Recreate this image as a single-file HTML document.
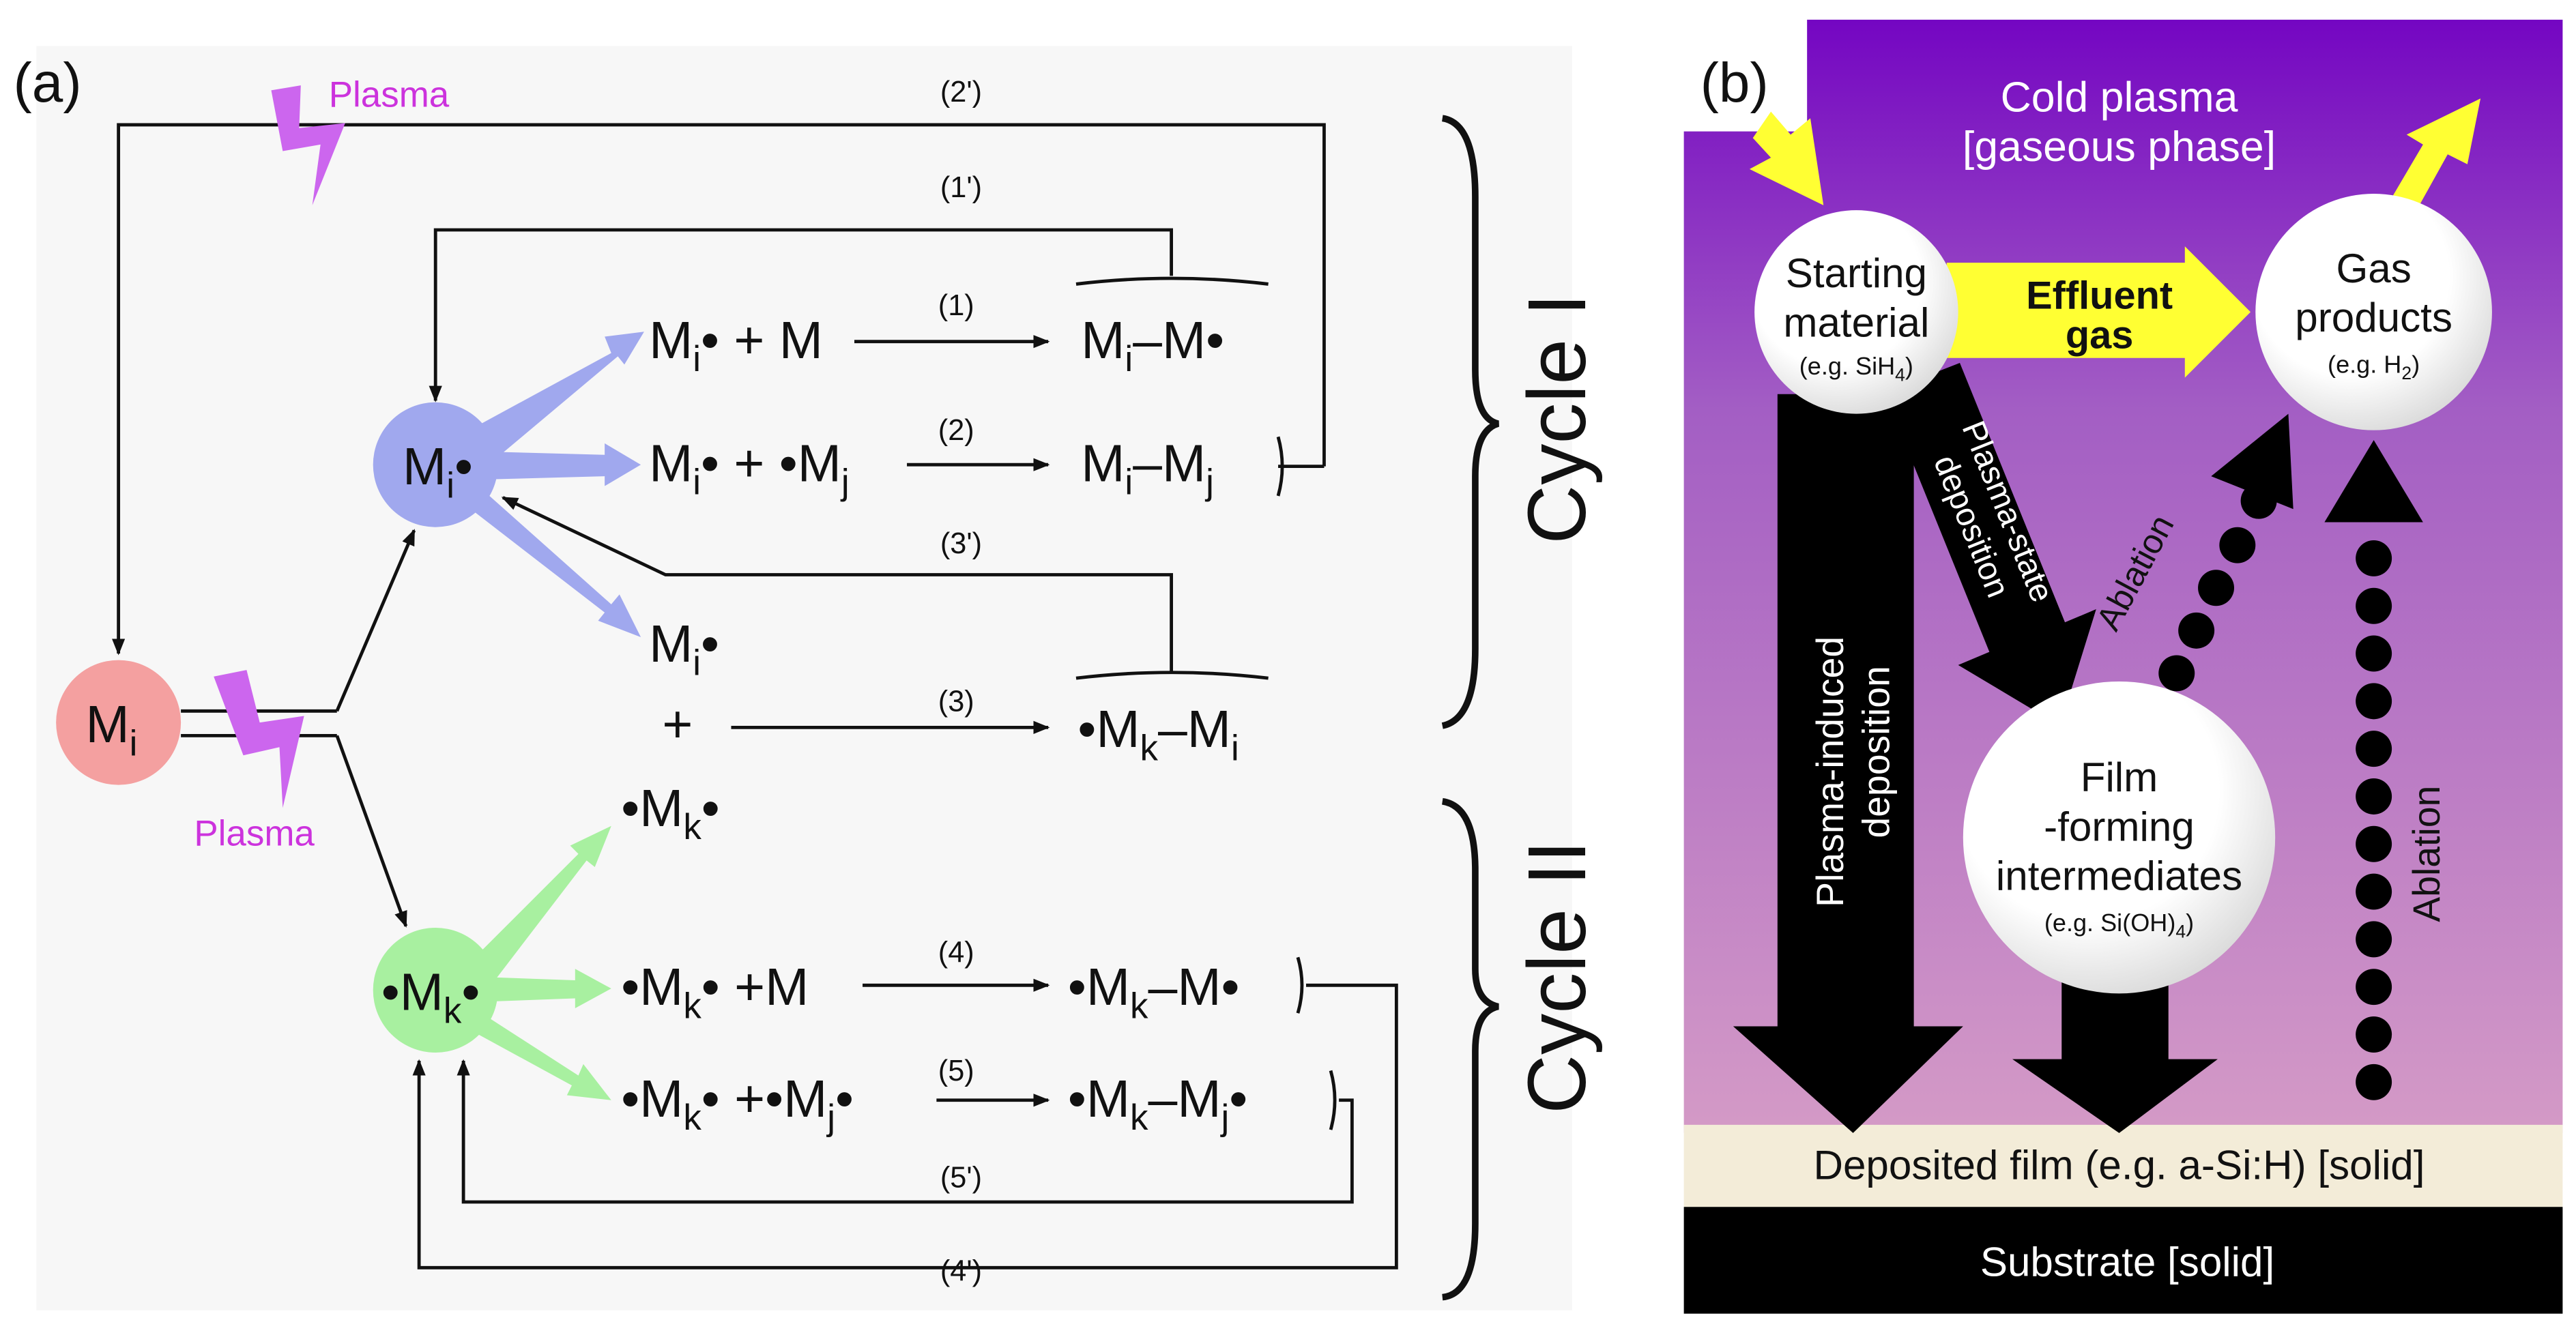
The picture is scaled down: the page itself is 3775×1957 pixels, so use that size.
<!DOCTYPE html>
<html><head><meta charset="utf-8"><style>
html,body{margin:0;padding:0;background:#fff}
svg{display:block}
text{font-family:"Liberation Sans",sans-serif}
</style></head><body>
<svg width="3775" height="1957" viewBox="0 0 1568 813" xmlns="http://www.w3.org/2000/svg">
<defs>
<marker id="ar" markerWidth="10" markerHeight="8" refX="9" refY="4" orient="auto" markerUnits="userSpaceOnUse"><path d="M0,0 L10,4 L0,8 Z" fill="#111"/></marker>
<linearGradient id="pg" x1="0" y1="0" x2="0" y2="1"><stop offset="0" stop-color="#7406c2"/><stop offset="0.35" stop-color="#a35ec4"/><stop offset="1" stop-color="#d49ac6"/></linearGradient>
<radialGradient id="wb" cx="0.4" cy="0.35" r="0.7"><stop offset="0.6" stop-color="#ffffff"/><stop offset="1" stop-color="#d8d8d8"/></radialGradient>
</defs>
<rect width="1568" height="813" fill="#fff"/>
<rect x="22" y="28" width="935" height="770" fill="#f7f7f7"/>
<text x="8" y="62" font-size="34" fill="#111">(a)</text>
<g stroke="#111" stroke-width="2" fill="none">
<polyline points="806,284 806,76 72,76 72,398" marker-end="url(#ar)"/>
<line x1="778" y1="284" x2="806" y2="284"/>
<polyline points="713,168 713,140 265,140 265,244" marker-end="url(#ar)"/>
<path d="M655,173 Q713,166 772,173"/>
<polyline points="713,410 713,350 405,350 306,303" marker-end="url(#ar)"/>
<path d="M655,413 Q713,406 772,413"/>
<path d="M778,266 Q783,284 778,302"/>
<line x1="110" y1="433" x2="205" y2="433"/><line x1="110" y1="448" x2="205" y2="448"/>
<polyline points="205,433 252,323" marker-end="url(#ar)"/>
<polyline points="205,448 247,564" marker-end="url(#ar)"/>
<line x1="520" y1="208" x2="638" y2="208" marker-end="url(#ar)"/>
<line x1="552" y1="283" x2="638" y2="283" marker-end="url(#ar)"/>
<line x1="445" y1="443" x2="638" y2="443" marker-end="url(#ar)"/>
<line x1="525" y1="600" x2="638" y2="600" marker-end="url(#ar)"/>
<line x1="570" y1="670" x2="638" y2="670" marker-end="url(#ar)"/>
<path d="M790,583 Q795,600 790,617"/>
<path d="M810,652 Q815,670 810,688"/>
<polyline points="795,600 850,600 850,772 255,772 255,646" marker-end="url(#ar)"/>
<polyline points="815,670 823,670 823,732 282,732 282,646" marker-end="url(#ar)"/>
</g>
<path d="M165,55 L183,52 L182,78 L210,75 L190,125 L195,88 L172,92 Z" fill="#cc66ee"/>
<text x="200" y="65" font-size="22" fill="#cc33dd">Plasma</text>
<path d="M130,412 L150,408 L158,440 L185,436 L172,492 L170,455 L148,460 Z" fill="#cc66ee"/>
<text x="118" y="515" font-size="22" fill="#cc33dd">Plasma</text>
<g fill="#a0a8ee">
<path d="M280,265 L372,215 L368,205 L392,202 L380,222 L376,217 L295,285 Z"/>
<path d="M295,275 L368,277 L368,270 L390,283 L368,296 L368,290 L295,292 Z"/>
<path d="M290,295 L372,368 L377,362 L390,388 L364,378 L368,373 L280,305 Z"/>
</g>
<g fill="#a8f0a0">
<path d="M282,590 L352,520 L347,515 L372,503 L362,528 L357,524 L295,605 Z"/>
<path d="M295,595 L350,597 L350,590 L372,602 L350,614 L350,608 L295,610 Z"/>
<path d="M290,615 L352,655 L355,648 L372,670 L345,667 L348,661 L282,625 Z"/>
</g>
<circle cx="72" cy="440" r="38" fill="#f4a0a0"/>
<circle cx="265" cy="283" r="38" fill="#a0a8ee"/>
<circle cx="265" cy="603" r="38" fill="#a8f0a0"/>
<g font-size="32" fill="#111">
<text x="52" y="452">M<tspan font-size="22" dy="8">i</tspan></text>
<text x="245" y="295">M<tspan font-size="22" dy="8">i</tspan><tspan dy="-8">•</tspan></text>
<text x="232" y="615">•M<tspan font-size="22" dy="8">k</tspan><tspan dy="-8">•</tspan></text>
<text x="395" y="218">M<tspan font-size="22" dy="8">i</tspan><tspan dy="-8">• +  M</tspan></text>
<text x="658" y="218">M<tspan font-size="22" dy="8">i</tspan><tspan dy="-8">–M•</tspan></text>
<text x="395" y="293">M<tspan font-size="22" dy="8">i</tspan><tspan dy="-8">• + •M</tspan><tspan font-size="22" dy="8">j</tspan></text>
<text x="658" y="293">M<tspan font-size="22" dy="8">i</tspan><tspan dy="-8">–M</tspan><tspan font-size="22" dy="8">j</tspan></text>
<text x="395" y="403">M<tspan font-size="22" dy="8">i</tspan><tspan dy="-8">•</tspan></text>
<text x="403" y="452">+</text>
<text x="656" y="455">•M<tspan font-size="22" dy="8">k</tspan><tspan dy="-8">–M</tspan><tspan font-size="22" dy="8">i</tspan></text>
<text x="378" y="503">•M<tspan font-size="22" dy="8">k</tspan><tspan dy="-8">•</tspan></text>
<text x="378" y="612">•M<tspan font-size="22" dy="8">k</tspan><tspan dy="-8">• +M</tspan></text>
<text x="650" y="612">•M<tspan font-size="22" dy="8">k</tspan><tspan dy="-8">–M•</tspan></text>
<text x="378" y="680">•M<tspan font-size="22" dy="8">k</tspan><tspan dy="-8">• +•M</tspan><tspan font-size="22" dy="8">j</tspan><tspan dy="-8">•</tspan></text>
<text x="650" y="680">•M<tspan font-size="22" dy="8">k</tspan><tspan dy="-8">–M</tspan><tspan font-size="22" dy="8">j</tspan><tspan dy="-8">•</tspan></text>
</g>
<g font-size="18" fill="#111" text-anchor="middle">
<text x="585" y="62">(2')</text><text x="585" y="120">(1')</text>
<text x="582" y="192">(1)</text><text x="582" y="268">(2)</text>
<text x="585" y="337">(3')</text><text x="582" y="433">(3)</text>
<text x="582" y="586">(4)</text><text x="582" y="658">(5)</text>
<text x="585" y="723">(5')</text><text x="585" y="780">(4')</text>
</g>
<g stroke="#111" stroke-width="4" fill="none">
<path d="M878,72 Q898,75 898,120 L898,225 Q898,255 912,258 Q898,262 898,290 L898,395 Q898,438 878,442"/>
<path d="M878,488 Q898,491 898,530 L898,590 Q898,610 912,613 Q898,616 898,640 L898,745 Q898,788 878,790"/>
</g>
<text transform="translate(965,255) rotate(-90)" font-size="50" text-anchor="middle" fill="#111">Cycle I</text>
<text transform="translate(965,595) rotate(-90)" font-size="50" text-anchor="middle" fill="#111">Cycle II</text>
<!-- panel b -->
<path d="M1100,12 L1560,12 L1560,690 L1025,690 L1025,80 L1100,80 Z" fill="url(#pg)"/>
<text x="1035" y="62" font-size="34" fill="#111">(b)</text>
<rect x="1025" y="685" width="535" height="50" fill="#f3ecd8"/>
<rect x="1025" y="735" width="535" height="65" fill="#000"/>
<text x="1290" y="718" font-size="25" text-anchor="middle" fill="#111">Deposited film (e.g. a-Si:H) [solid]</text>
<text x="1295" y="777" font-size="25" text-anchor="middle" fill="#fff">Substrate [solid]</text>
<text x="1290" y="68" font-size="26" text-anchor="middle" fill="#fff">Cold plasma</text>
<text x="1290" y="98" font-size="26" text-anchor="middle" fill="#fff">[gaseous phase]</text>
<path d="M1185,160 L1330,160 L1330,150 L1370,190 L1330,230 L1330,218 L1185,218 Z" fill="#ffff33"/>
<path d="M1078,68 L1090,82 L1102,72 L1110,125 L1065,103 L1078,96 L1067,84 Z" fill="#ffff33"/>
<path d="M1455,122 L1475,88 L1465,82 L1510,60 L1502,100 L1490,94 L1470,130 Z" fill="#ffff33"/>
<path d="M1082,240 L1165,240 L1165,625 L1195,625 L1128,690 L1055,625 L1082,625 Z" fill="#000"/>
<path d="M1147,239 L1193,221 L1257,379 L1276,371 L1254,442 L1192,405 L1211,397 Z" fill="#000"/>
<path d="M1255,590 L1320,590 L1320,645 L1350,645 L1290,690 L1225,645 L1255,645 Z" fill="#000"/>
<circle cx="1130" cy="190" r="62" fill="url(#wb)"/>
<circle cx="1445" cy="190" r="72" fill="url(#wb)"/>
<circle cx="1290" cy="510" r="95" fill="url(#wb)"/>
<g fill="#111" text-anchor="middle">
<text x="1130" y="175" font-size="25">Starting</text>
<text x="1130" y="205" font-size="25">material</text>
<text x="1130" y="228" font-size="15">(e.g. SiH<tspan font-size="11" dy="4">4</tspan><tspan dy="-4">)</tspan></text>
<text x="1445" y="172" font-size="25">Gas</text>
<text x="1445" y="202" font-size="25">products</text>
<text x="1445" y="227" font-size="15">(e.g. H<tspan font-size="11" dy="4">2</tspan><tspan dy="-4">)</tspan></text>
<text x="1290" y="482" font-size="25">Film</text>
<text x="1290" y="512" font-size="25">-forming</text>
<text x="1290" y="542" font-size="25">intermediates</text>
<text x="1290" y="567" font-size="15">(e.g. Si(OH)<tspan font-size="11" dy="4">4</tspan><tspan dy="-4">)</tspan></text>
<text x="1278" y="188" font-size="24" font-weight="bold">Effluent</text>
<text x="1278" y="212" font-size="24" font-weight="bold">gas</text>
</g>
<g fill="#fff" font-size="23" text-anchor="middle">
<text transform="translate(1122,470) rotate(-90)">Plasma-induced</text>
<text transform="translate(1150,458) rotate(-90)">deposition</text>
</g>
<g fill="#fff" font-size="20" text-anchor="middle">
<text transform="translate(1216,314) rotate(68)">Plasma-state</text>
<text transform="translate(1194,323) rotate(68)">deposition</text>
</g>
<text transform="translate(1306,352) rotate(-62)" font-size="21" text-anchor="middle" fill="#111">Ablation</text>
<text transform="translate(1485,520) rotate(-90)" font-size="23" text-anchor="middle" fill="#111">Ablation</text>
<g fill="#000">
<circle cx="1445" cy="340" r="11"/><circle cx="1445" cy="369" r="11"/><circle cx="1445" cy="398" r="11"/>
<circle cx="1445" cy="427" r="11"/><circle cx="1445" cy="456" r="11"/><circle cx="1445" cy="485" r="11"/>
<circle cx="1445" cy="514" r="11"/><circle cx="1445" cy="543" r="11"/><circle cx="1445" cy="572" r="11"/>
<circle cx="1445" cy="601" r="11"/><circle cx="1445" cy="630" r="11"/><circle cx="1445" cy="659" r="11"/>
<polygon points="1445,268 1475,318 1415,318"/>
<circle cx="1375" cy="305" r="11"/><circle cx="1362" cy="332" r="11"/><circle cx="1349" cy="358" r="11"/><circle cx="1337" cy="384" r="11"/><circle cx="1325" cy="410" r="11"/>
<polygon points="1393,252 1396,310 1346,290"/>
</g>
</svg>
</body></html>
